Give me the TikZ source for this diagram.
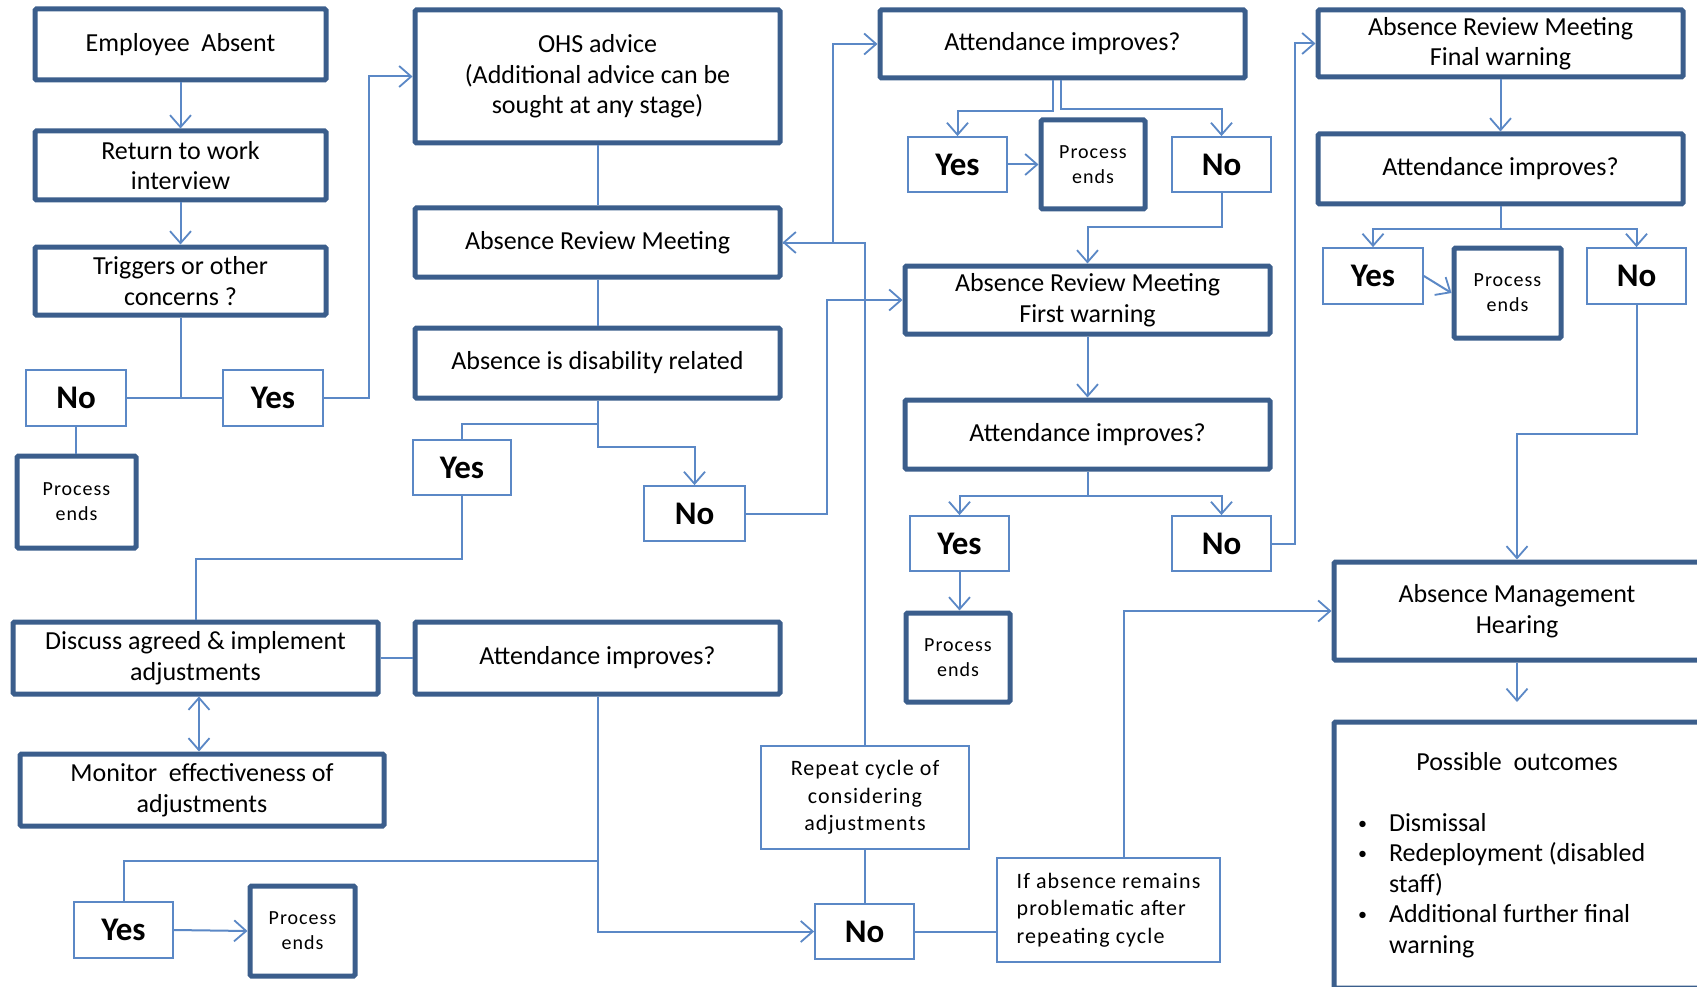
\documentclass[tikz,border=0pt]{standalone}
\usepackage{fontspec}
\setmainfont{Carlito}
\newfontfamily\spacedfont[LetterSpace=5]{Carlito}
\usetikzlibrary{arrows.meta}
\newcommand\myfmain{\fontsize{26}{30.5}\selectfont}
\newcommand\myfyn{\bfseries\fontsize{33}{36}\selectfont}
\newcommand\myfpe{\spacedfont\fontsize{20}{25}\selectfont}
\newcommand\myfsm{\spacedfont\fontsize{22}{27.5}\selectfont}
\newcommand\mybul{\makebox[32pt][l]{\hspace*{1pt}\raisebox{2pt}{\fontsize{18}{18}\selectfont\textbullet}}}
\definecolor{darkb}{HTML}{3B5E8C}
\definecolor{lineb}{HTML}{5B88C6}
\begin{document}
\begin{tikzpicture}[x=1pt,y=-1pt,
  tbox/.style={draw=darkb, line width=5pt, rounded corners=1.5pt, inner sep=0pt, align=center, font=\myfmain, text=black},
  pebox/.style={tbox, font=\myfpe},
  ynbox/.style={draw=lineb, line width=1.8pt, inner sep=0pt, align=center, font=\myfyn, minimum width=99pt, minimum height=55pt},
  sbox/.style={draw=lineb, line width=1.8pt, inner sep=0pt, font=\myfsm},
  conn/.style={draw=lineb, line width=2pt},
  arr/.style={conn, -{Straight Barb[length=12pt,width=21pt,line width=1.8pt]}},
  darr/.style={conn, {Straight Barb[length=12pt,width=21pt,line width=1.8pt]}-{Straight Barb[length=12pt,width=21pt,line width=1.8pt]}}
]
\useasboundingbox (0,0) rectangle (1697,987);
\fill[white] (0,0) rectangle (1697,987);
\clip (0,0) rectangle (1697,987);

% left column
\node[tbox, minimum width=291pt, minimum height=71pt] (emp) at (180.5,44.5) {Employee~~Absent};
\node[tbox, minimum width=291pt, minimum height=69pt] (rtw) at (180.5,165.5) {Return to work\\interview};
\node[tbox, minimum width=291pt, minimum height=68pt] (trig) at (180.5,281) {Triggers or other\\concerns ?};
\node[ynbox, minimum width=100pt, minimum height=56pt] (no1) at (76,398) {No};
\node[ynbox, minimum width=100pt, minimum height=56pt] (yes1) at (273,398) {Yes};
\node[pebox, minimum width=119pt, minimum height=92pt] (pe1) at (76.5,502) {Process\\ends};

% second column
\node[tbox, minimum width=365pt, minimum height=133pt] (ohs) at (597.5,76.5) {OHS advice\\(Additional advice can be\\sought at any stage)};
\node[tbox, minimum width=365pt, minimum height=69pt] (arm) at (597.5,242.5) {Absence Review Meeting};
\node[tbox, minimum width=365pt, minimum height=70pt] (dis) at (597.5,363) {Absence is disability related};
\node[ynbox, minimum width=98pt] (yesd) at (462,467.5) {Yes};
\node[ynbox, minimum width=101pt] (nod) at (694.5,513.5) {No};

% lower left
\node[tbox, minimum width=365pt, minimum height=72pt] (disc) at (195.5,658) {Discuss agreed \& implement\\adjustments};
\node[tbox, minimum width=365pt, minimum height=72pt] (att4) at (597.5,658) {Attendance improves?};
\node[tbox, minimum width=364pt, minimum height=72pt] (mon) at (202,790) {Monitor~~effectiveness of\\adjustments};
\node[ynbox, minimum height=56pt] (yesb) at (123.5,930) {Yes};
\node[pebox, minimum width=105pt, minimum height=90pt] (peb) at (302.5,931) {Process\\ends};

% third column
\node[tbox, minimum width=365pt, minimum height=68pt] (att1) at (1062.5,44) {Attendance improves?};
\node[ynbox] (yesa1) at (957.5,164.5) {Yes};
\node[pebox, minimum width=104pt, minimum height=89pt] (pea1) at (1093,164.5) {Process\\ends};
\node[ynbox] (noa1) at (1221.5,164.5) {No};
\node[tbox, minimum width=365pt, minimum height=68pt] (armf) at (1087.5,300) {Absence Review Meeting\\First warning};
\node[tbox, minimum width=365pt, minimum height=69pt] (att2) at (1087.5,434.5) {Attendance improves?};
\node[ynbox] (yesa2) at (959.5,543.5) {Yes};
\node[ynbox] (noa2) at (1221.5,543.5) {No};
\node[pebox, minimum width=104pt, minimum height=89pt] (pea2) at (958,657.5) {Process\\ends};
\node[sbox, minimum width=208pt, minimum height=103pt, align=center] (rep) at (865,797.5) {Repeat cycle of\\considering\\adjustments};
\node[ynbox] (nor) at (864.5,931.5) {No};
\node[sbox, minimum width=223pt, minimum height=104pt, align=left] (ifa) at (1108.5,910) {If absence remains\\problematic after\\repeating cycle};

% right column
\node[tbox, minimum width=365pt, minimum height=67pt] (armfin) at (1500.5,43.5) {Absence Review Meeting\\Final warning};
\node[tbox, minimum width=365pt, minimum height=70pt] (att3) at (1500.5,169) {Attendance improves?};
\node[ynbox, minimum width=100pt, minimum height=56pt] (yesa3) at (1373,276) {Yes};
\node[pebox, minimum width=107pt, minimum height=90pt] (pea3) at (1507.5,293) {Process\\ends};
\node[ynbox, minimum height=56pt] (noa3) at (1636.5,276) {No};
\node[tbox, minimum width=366pt, minimum height=98pt] (amh) at (1517,611) {Absence Management\\Hearing};
\coordinate (amhout) at (1517,702);
\node[tbox, minimum width=366pt, minimum height=266pt] (outc) at (1517,855) {%
\begin{minipage}{320pt}\myfmain
\centering Possible~~outcomes\par
\vspace{30.5pt}
\raggedright
\mybul Dismissal\par
\mybul Redeployment (disabled\par
\hspace*{32pt}staff)\par
\mybul Additional further final\par
\hspace*{32pt}warning\par
\end{minipage}};

% junctions
\coordinate (j4) at (597.5,861);

% connectors
\draw[arr] (emp) -- (rtw);
\draw[arr] (rtw) -- (trig);
\draw[conn] (trig.south) -- (trig.south |- no1.east);
\draw[conn] (no1.east) -- (yes1.west);
\draw[conn] (no1.south) -- (no1.south |- pe1.north);
\draw[arr] (yes1.east) -- ++(45,0) |- (ohs.west);
\draw[conn] (ohs) -- (arm);
\draw[conn] (arm) -- (dis);
\draw[conn] (dis.south) -- ++(0,23) -| (yesd.north);
\draw[arr] (dis.south) -- ++(0,46) -| (nod.north);
\draw[arr] (nod.east) -- ++(81,0) |- (armf.west);
\draw[arr] (rep.north) |- (arm.east);
\draw[arr] (arm.east) -- ++(50,0) |- (att1.west);
\draw[arr] ([xshift=-9.5pt]att1.south) -- ++(0,31) -| (yesa1.north);
\draw[arr] ([xshift=-1.5pt]att1.south) -- ++(0,29) -| (noa1.north);
\draw[arr] (yesa1) -- (pea1);
\draw[arr] (noa1.south) -- ++(0,34) -| (armf.north);
\draw[arr] (armf) -- (att2);
\draw[arr] (att2.south) -- ++(0,24) -| (yesa2.north);
\draw[arr] (att2.south) -- ++(0,24) -| (noa2.north);
\draw[arr] (yesa2.south) -- (yesa2.south |- pea2.north);
\draw[arr] (noa2.east) -- ++(23,0) |- (armfin.west);
\draw[arr] (armfin) -- (att3);
\draw[arr] (att3.south) -- ++(0,23) -| (yesa3.north);
\draw[arr] (att3.south) -- ++(0,23) -| (noa3.north);
\draw[arr] (yesa3.east) -- (pea3.west);
\draw[arr] (noa3.south) -- ++(0,129) -| (amh.north);
\draw[arr] (amh.south) -- (amhout);
\draw[arr] ([xshift=15.5pt]ifa.north) |- (amh.west);
\draw[conn] (nor.east) -- (nor.east -| ifa.west);
\draw[conn] (rep.south) -- (rep.south |- nor.north);
\draw[arr] (att4.south) |- (nor.west);
\draw[conn] (j4) -| (yesb.north);
\draw[arr] (yesb.east) -- (peb.west);
\draw[conn] (disc.east) -- (att4.west);
\draw[darr] ([xshift=3.5pt]disc.south) -- ([xshift=-3pt]mon.north);
\draw[conn] (yesd.south) -- ++(0,63) -| (disc.north);
\end{tikzpicture}
\end{document}
